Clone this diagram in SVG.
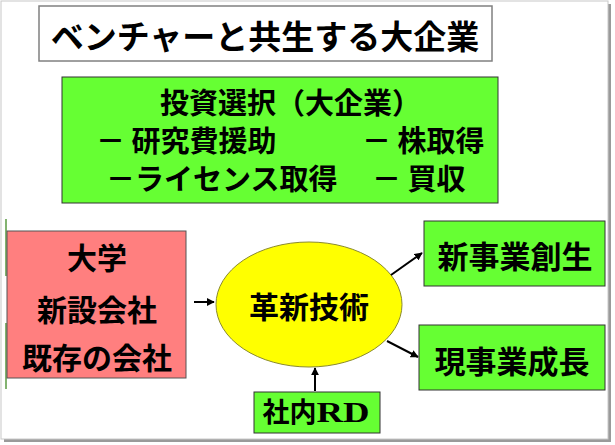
<svg xmlns="http://www.w3.org/2000/svg" width="615" height="445" viewBox="0 0 615 445">
<defs>
<style>
.t{font-family:"Noto Sans CJK JP","Noto Sans CJK SC",sans-serif;font-weight:bold;fill:#000;text-anchor:middle}
.s{text-anchor:start}
.g{fill:#66FF33;stroke:#333;stroke-width:1}
.c{stroke:#000;stroke-width:2;fill:none;marker-end:url(#ah)}
</style>
<marker id="ah" viewBox="0 0 10 10" refX="9" refY="5" markerWidth="4" markerHeight="4" orient="auto" markerUnits="strokeWidth">
<path d="M0,0 L10,5 L0,10 z" fill="#000"/>
</marker>
</defs>
<rect width="615" height="445" fill="#fff"/>
<g id="frame">
<rect x="4" y="4" width="607" height="438" fill="#9a9a9a"/>
<rect x="1" y="1" width="607" height="438" fill="#fff" stroke="#c8c8c8" stroke-width="1"/>
<line x1="6" y1="219" x2="6" y2="276" stroke="#5a9a40" stroke-width="1.5"/>
<line x1="6" y1="323" x2="6" y2="389" stroke="#5a9a40" stroke-width="1.5"/>
</g>
<g id="title">
<rect x="39" y="6" width="453" height="55" fill="#fff" stroke="#808080" stroke-width="1.5"/>
<text class="t" x="265" y="49" font-size="33">ベンチャーと共生する大企業</text>
</g>
<g id="invest">
<rect class="g" x="62" y="77" width="436" height="126"/>
<text class="t s" font-size="29"><tspan x="160" y="114">投資選択（大企業）</tspan><tspan x="96" y="152">－ 研究費援助</tspan><tspan x="362" y="152">－ 株取得</tspan><tspan x="106" y="190">－ライセンス取得</tspan><tspan x="372" y="190">－ 買収</tspan></text>
</g>
<g id="sources">
<rect x="7" y="231" width="179" height="147" fill="#FF7F7F" stroke="#555" stroke-width="1"/>
<text class="t" x="97" y="269" font-size="30">大学</text>
<text class="t" x="97" y="321" font-size="30">新設会社</text>
<text class="t" x="97" y="369" font-size="30">既存の会社</text>
</g>
<g id="innovation">
<ellipse cx="309" cy="304.5" rx="93" ry="62.5" fill="#FFFF00" stroke="#8a8a30" stroke-width="1"/>
<text class="t" x="309" y="318" font-size="30">革新技術</text>
</g>
<g id="newbiz">
<rect class="g" x="424" y="221" width="181" height="65"/>
<text class="t" x="515" y="268" font-size="31">新事業創生</text>
</g>
<g id="growth">
<rect class="g" x="419" y="325" width="186" height="65"/>
<text class="t" x="512" y="373" font-size="31">現事業成長</text>
</g>
<g id="rd">
<rect class="g" x="254" y="392" width="126" height="41"/>
<text class="t" x="316" y="422" font-size="27">社内<tspan font-family="'Liberation Serif',serif" font-size="29" font-weight="bold" textLength="53" lengthAdjust="spacingAndGlyphs">RD</tspan></text>
</g>
<g id="connectors">
<line class="c" x1="194" y1="302" x2="214" y2="302"/>
<line class="c" x1="315" y1="391" x2="315" y2="368"/>
<line class="c" x1="391" y1="275" x2="422" y2="253"/>
<line class="c" x1="387" y1="341" x2="418" y2="357"/>
</g>
</svg>
